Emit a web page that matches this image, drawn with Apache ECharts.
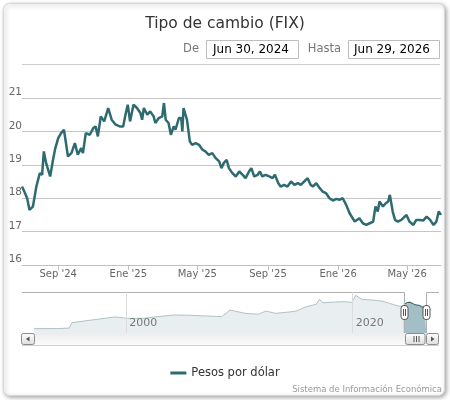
<!DOCTYPE html>
<html>
<head>
<meta charset="utf-8">
<title>Tipo de cambio (FIX)</title>
<script src="https://cdn.jsdelivr.net/npm/echarts@6/dist/echarts.min.js"></script>
<style>
html, body { margin: 0; padding: 0; background: #fff; }
#main { width: 450px; height: 400px; }
</style>
</head>
<body>
<div id="main"></div>
<script>
// FIX diario (muestreado), Jun 2024 - Jun 2026
var fixDates = ['2024-06-30','2024-07-04','2024-07-09','2024-07-13','2024-07-16','2024-07-19','2024-07-25','2024-07-31',
    '2024-08-04','2024-08-07','2024-08-11','2024-08-14','2024-08-18','2024-08-23','2024-08-27',
    '2024-09-01','2024-09-06','2024-09-11','2024-09-18','2024-09-24','2024-09-30',
    '2024-10-05','2024-10-11','2024-10-14','2024-10-19','2024-10-26',
    '2024-11-01','2024-11-05','2024-11-09','2024-11-14','2024-11-20','2024-11-27',
    '2024-12-03','2024-12-10','2024-12-17','2024-12-23','2024-12-27','2024-12-31',
    '2025-01-04','2025-01-10','2025-01-16','2025-01-22','2025-01-25','2025-01-28',
    '2025-02-03','2025-02-08','2025-02-14','2025-02-17','2025-02-23',
    '2025-03-01','2025-03-04','2025-03-07','2025-03-12','2025-03-16','2025-03-21','2025-03-24','2025-03-30',
    '2025-04-03','2025-04-05','2025-04-07','2025-04-10','2025-04-13','2025-04-18','2025-04-22','2025-04-28',
    '2025-05-04','2025-05-10','2025-05-15','2025-05-21','2025-05-27',
    '2025-06-02','2025-06-08','2025-06-12','2025-06-16','2025-06-21','2025-06-25',
    '2025-07-01','2025-07-07','2025-07-13','2025-07-19','2025-07-24','2025-07-30',
    '2025-08-03','2025-08-08','2025-08-14','2025-08-18','2025-08-22','2025-08-28',
    '2025-09-03','2025-09-09','2025-09-13','2025-09-19','2025-09-23','2025-09-29',
    '2025-10-05','2025-10-11','2025-10-17','2025-10-23','2025-10-28',
    '2025-11-03','2025-11-09','2025-11-14','2025-11-18','2025-11-24','2025-11-30',
    '2025-12-05','2025-12-11','2025-12-17','2025-12-23','2025-12-29',
    '2026-01-03','2026-01-09','2026-01-15','2026-01-21','2026-01-30',
    '2026-02-07','2026-02-13','2026-02-19','2026-02-25',
    '2026-03-03','2026-03-07','2026-03-11','2026-03-14','2026-03-20','2026-03-25','2026-03-29',
    '2026-04-01','2026-04-06','2026-04-10','2026-04-15','2026-04-21','2026-04-30',
    '2026-05-05','2026-05-12','2026-05-17','2026-05-23','2026-05-29',
    '2026-06-04','2026-06-10','2026-06-16','2026-06-21','2026-06-25','2026-06-29'];
var fixValues = [18.35,18.2,18.0,17.65,17.6,17.75,18.35,18.75,
    18.7,19.4,19.05,19.0,18.65,19.15,19.5,
    19.8,19.95,20.05,19.25,19.35,19.65,
    19.3,19.5,19.35,19.95,19.9,
    20.1,20.15,19.85,20.45,20.3,20.7,
    20.35,20.2,20.15,20.15,20.5,20.8,
    20.3,20.8,20.7,20.55,20.35,20.7,
    20.5,20.6,20.45,20.25,20.4,
    20.45,20.85,20.35,20.25,19.9,20.15,20.05,20.4,
    20.4,20.0,20.7,20.75,20.35,19.7,19.6,19.65,
    19.6,19.45,19.4,19.3,19.35,
    19.2,19.1,18.9,19.05,19.15,18.9,
    18.75,18.65,18.8,18.7,18.6,18.8,
    18.9,18.65,18.7,18.8,18.65,18.7,
    18.65,18.6,18.7,18.45,18.35,18.4,
    18.35,18.5,18.4,18.45,18.4,
    18.5,18.6,18.4,18.35,18.45,18.3,
    18.2,18.15,18.0,17.93,17.98,
    17.95,18.0,17.8,17.55,17.3,
    17.4,17.25,17.2,17.25,
    17.3,17.75,17.6,17.9,17.75,17.85,17.9,
    18.1,17.6,17.35,17.3,17.35,17.5,
    17.3,17.2,17.35,17.35,17.33,
    17.45,17.35,17.2,17.3,17.6,17.5];

// historia para el navegador (1991 - 2024)
var histDates = ['1991-11-12','1992-12-01','1993-12-01','1994-12-19','1995-03-15','1996-04-01','1997-07-01',
    '1999-01-01','2000-02-01','2001-08-01','2002-10-01','2004-04-01','2005-09-01','2006-12-01','2008-06-01',
    '2008-11-15','2009-03-05','2009-08-01','2010-07-01','2011-09-01','2012-05-01','2013-03-01','2014-06-01',
    '2015-01-01','2015-12-01','2016-10-15','2017-01-19','2017-05-15','2018-07-01','2019-04-01','2019-12-01',
    '2020-04-06','2020-10-15','2021-09-01','2022-08-01','2023-04-01','2024-01-15','2024-06-15'];
var histValues = [3.07,3.12,3.11,3.45,7.0,8.1,9.3,
    10.8,9.9,9.9,11.0,12.1,11.9,11.5,11.0,
    13.6,15.4,14.7,13.2,12.6,14.7,13.2,14.1,
    14.7,17.6,19.2,22.5,20.2,20.7,20.9,20.4,
    25.1,22.5,22.0,21.3,19.8,18.0,17.9];

var xTickDates = ['2024-09-01','2025-01-01','2025-05-01','2025-09-01','2026-01-01','2026-05-01'];
var xTickLabels = ["Sep '24","Ene '25","May '25","Sep '25","Ene '26","May '26"];
var navTickDates = ['2000-01-01','2020-01-01'];
var navTickLabels = ['2000','2020'];

var FONT = '"DejaVu Sans", Verdana, sans-serif';
var LINE_COLOR = '#2d6b70';

function ts(s) {
    var p = s.split('-');
    return new Date(+p[0], +p[1] - 1, +(p[2] || 1)).getTime();
}
function pairs(dates, values) {
    var out = [];
    for (var i = 0; i < dates.length; i++) out.push([ts(dates[i]), values[i]]);
    return out;
}

var mainData = pairs(fixDates, fixValues);
var navData = pairs(histDates, histValues).concat(mainData);
var xTickTimes = xTickDates.map(ts);
var navTickTimes = navTickDates.map(ts);

function labelFor(times, labels) {
    return function (v) {
        for (var i = 0; i < times.length; i++) {
            if (Math.abs(times[i] - v) < 1000) return labels[i];
        }
        return '';
    };
}

var chart = echarts.init(document.getElementById('main'), null, {renderer: 'canvas'});

var btnFill = {type: 'linear', x: 0, y: 0, x2: 0, y2: 1,
    colorStops: [{offset: 0, color: '#ffffff'}, {offset: 1, color: '#dcdcdc'}]};

var option = {
    backgroundColor: '#fff',
    animation: false,
    textStyle: {fontFamily: FONT},
    title: {
        text: 'Tipo de cambio (FIX)',
        left: 'center',
        top: 11,
        textStyle: {fontFamily: FONT, fontSize: 15.5, fontWeight: 'normal', color: '#333'}
    },
    legend: {
        data: ['Pesos por dólar'],
        left: 'center',
        top: 362,
        icon: 'rect',
        itemWidth: 16,
        itemHeight: 3,
        itemGap: 4,
        textStyle: {fontFamily: FONT, fontSize: 11.5, color: '#333'}
    },
    grid: [
        {left: 22, right: 9, top: 98, height: 167},
        {left: 22, right: 10, top: 292, height: 41}
    ],
    xAxis: [
        {
            type: 'value', gridIndex: 0,
            min: ts('2024-06-30'), max: ts('2026-06-29'),
            axisLine: {lineStyle: {color: '#c0c0c0'}},
            axisTick: {show: true, customValues: xTickTimes, length: 5, lineStyle: {color: '#c0c0c0'}},
            axisLabel: {
                customValues: xTickTimes, margin: 4, fontSize: 10, color: '#666', fontFamily: FONT,
                formatter: labelFor(xTickTimes, xTickLabels)
            },
            splitLine: {show: false}
        },
        {
            type: 'value', gridIndex: 1, z: 10,
            min: ts('1990-10-16'), max: ts('2027-09-17'),
            axisLine: {show: false},
            axisTick: {show: true, inside: true, customValues: navTickTimes, length: 41, lineStyle: {color: '#dcdcdc'}},
            axisLabel: {
                inside: true, customValues: navTickTimes, margin: 4, align: 'left', verticalAlign: 'bottom',
                padding: [0, 0, 0, 3], fontSize: 11, color: '#777', fontFamily: FONT,
                formatter: labelFor(navTickTimes, navTickLabels)
            },
            splitLine: {show: false}
        }
    ],
    yAxis: [
        {
            type: 'value', gridIndex: 0, min: 16, max: 21, interval: 1,
            axisLine: {show: false}, axisTick: {show: false},
            axisLabel: {margin: 0, verticalAlign: 'bottom', fontSize: 10.5, color: '#666', fontFamily: FONT},
            splitLine: {lineStyle: {color: '#c6c6c6'}}
        },
        {
            type: 'value', gridIndex: 1, min: 0.2, max: 27.3,
            show: false, splitLine: {show: false}
        }
    ],
    series: [
        {
            name: 'Pesos por dólar', type: 'line', xAxisIndex: 0, yAxisIndex: 0,
            data: mainData, symbol: 'none', smooth: false,
            color: LINE_COLOR,
            lineStyle: {color: LINE_COLOR, width: 2.5},
            z: 5
        },
        {
            name: 'nav', type: 'line', xAxisIndex: 1, yAxisIndex: 1,
            data: navData, symbol: 'none',
            lineStyle: {color: '#b2c1c5', width: 1},
            areaStyle: {color: '#e9eff1', opacity: 1},
            silent: true
        },
        {
            name: 'navSel', type: 'line', xAxisIndex: 1, yAxisIndex: 1,
            data: mainData, symbol: 'none',
            lineStyle: {color: '#2f5a62', width: 1},
            areaStyle: {color: '#a3bec6', opacity: 1},
            silent: true, z: 3
        }
    ],
    graphic: [
        {type: 'rect', z: -10, shape: {x: 3.5, y: 3.5, width: 441, height: 392, r: 6},
            style: {fill: '#fff', stroke: '#d6d6d6', lineWidth: 1, shadowBlur: 4, shadowOffsetX: 1.5, shadowOffsetY: 1.5, shadowColor: 'rgba(0,0,0,0.35)'}},
        {type: 'text', x: 199, y: 49.5, style: {text: 'De', fill: '#777', font: '11.5px ' + FONT, textAlign: 'right', textVerticalAlign: 'middle'}},
        {type: 'rect', shape: {x: 206.5, y: 40.5, width: 92, height: 18}, style: {fill: '#fff', stroke: '#bdbdbd', lineWidth: 1}},
        {type: 'text', x: 213, y: 49.5, style: {text: 'Jun 30, 2024', fill: '#000', font: '12px ' + FONT, textVerticalAlign: 'middle'}},
        {type: 'text', x: 341, y: 49.5, style: {text: 'Hasta', fill: '#777', font: '11.5px ' + FONT, textAlign: 'right', textVerticalAlign: 'middle'}},
        {type: 'rect', shape: {x: 348.5, y: 40.5, width: 91, height: 18}, style: {fill: '#fff', stroke: '#bdbdbd', lineWidth: 1}},
        {type: 'text', x: 354, y: 49.5, style: {text: 'Jun 29, 2026', fill: '#000', font: '12px ' + FONT, textVerticalAlign: 'middle'}},
        {type: 'line', shape: {x1: 22, y1: 64.5, x2: 440, y2: 64.5}, style: {stroke: '#cccccc', lineWidth: 1}},
        {type: 'text', x: 442, y: 390, style: {text: 'Sistema de Información Económica', fill: '#999', font: '8.5px ' + FONT, textAlign: 'right', textVerticalAlign: 'middle'}}
    ]
};

chart.setOption(option);

// navegador: contorno, asas y barra de desplazamiento
function drawNavigator() {
    var x0 = Math.round(chart.convertToPixel({xAxisIndex: 1}, ts(fixDates[0]))) + 0.5;
    var x1 = Math.round(chart.convertToPixel({xAxisIndex: 1}, ts(fixDates[fixDates.length - 1]))) + 0.5;
    var top = 292.5, bottom = 333;
    var els = [];
    els.push({type: 'polyline', z: 10, shape: {points: [[22, top], [x0, top], [x0, bottom]]}, style: {stroke: '#b0b0b0', lineWidth: 1, fill: null}});
    els.push({type: 'polyline', z: 10, shape: {points: [[x1, bottom], [x1, top], [439, top]]}, style: {stroke: '#b0b0b0', lineWidth: 1, fill: null}});
    // barra
    els.push({type: 'rect', z: 10, shape: {x: 22, y: 333, width: 417, height: 12},
        style: {fill: {type: 'linear', x: 0, y: 0, x2: 0, y2: 1, colorStops: [{offset: 0, color: '#ececec'}, {offset: 1, color: '#fbfbfb'}]}}});
    els.push({type: 'line', z: 10, shape: {x1: 22, y1: 345.5, x2: 439, y2: 345.5}, style: {stroke: '#d0d0d0'}});
    els.push({type: 'rect', z: 11, shape: {x: 21.5, y: 333.5, width: 13, height: 11, r: 2}, style: {fill: btnFill, stroke: '#8c8c8c'}});
    els.push({type: 'polygon', z: 12, shape: {points: [[29.5, 336.5], [29.5, 341.5], [26, 339]]}, style: {fill: '#555'}});
    els.push({type: 'rect', z: 11, shape: {x: 426.5, y: 333.5, width: 12, height: 11, r: 2}, style: {fill: btnFill, stroke: '#8c8c8c'}});
    els.push({type: 'polygon', z: 12, shape: {points: [[431, 336.5], [431, 341.5], [434.5, 339]]}, style: {fill: '#555'}});
    els.push({type: 'rect', z: 11, shape: {x: x0 + 1, y: 333.5, width: x1 - x0 - 2.5, height: 11, r: 2}, style: {fill: btnFill, stroke: '#8c8c8c'}});
    var cx = Math.round((x0 + x1) / 2) + 0.5;
    [-2.5, 0, 2.5].forEach(function (d) {
        els.push({type: 'line', z: 12, shape: {x1: cx + d, y1: 336, x2: cx + d, y2: 342}, style: {stroke: '#555'}});
    });
    // asas
    [x0, x1].forEach(function (xe) {
        els.push({type: 'rect', z: 13, shape: {x: xe - 3.5, y: 305.5, width: 7, height: 14, r: 3}, style: {fill: '#fff', stroke: '#555'}});
        els.push({type: 'line', z: 14, shape: {x1: xe - 1, y1: 309, x2: xe - 1, y2: 316}, style: {stroke: '#555'}});
        els.push({type: 'line', z: 14, shape: {x1: xe + 1, y1: 309, x2: xe + 1, y2: 316}, style: {stroke: '#555'}});
    });
    chart.setOption({graphic: option.graphic.concat(els)});
}
drawNavigator();
</script>
</body>
</html>
